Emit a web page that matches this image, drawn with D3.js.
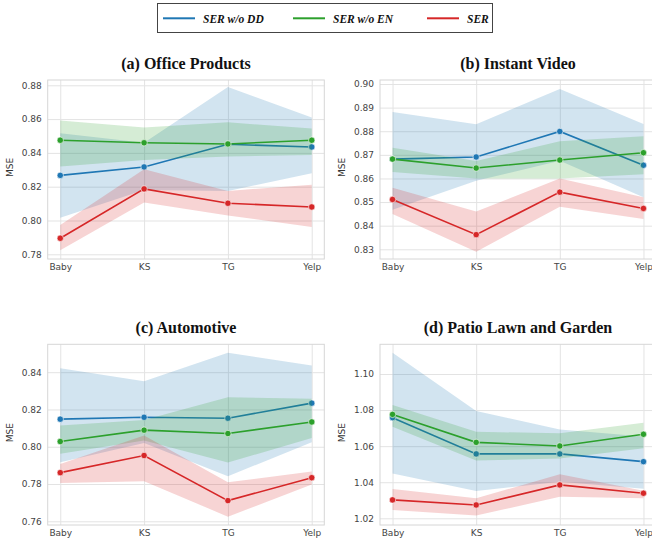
<!DOCTYPE html>
<html><head><meta charset="utf-8">
<script src="https://cdn.jsdelivr.net/npm/d3@7"></script>
<style>html,body{margin:0;padding:0;background:#fff;}svg{display:block;}</style>
</head><body>
<svg id="chart" width="652" height="541"></svg>
<script>
const categories = ["Baby", "KS", "TG", "Yelp"];
const seriesNames = ["SER w/o DD", "SER w/o EN", "SER"];
const seriesColors = ["#1f77b4", "#2ca02c", "#d62728"];
const panelTitles = ["(a) Office Products", "(b) Instant Video", "(c) Automotive", "(d) Patio Lawn and Garden"];

const ticksA = [0.78, 0.80, 0.82, 0.84, 0.86, 0.88];
const ticksB = [0.83, 0.84, 0.85, 0.86, 0.87, 0.88, 0.89, 0.90];
const ticksC = [0.76, 0.78, 0.80, 0.82, 0.84];
const ticksD = [1.02, 1.04, 1.06, 1.08, 1.10];

// (a) Office Products
const officeDD = [0.8267, 0.8317, 0.8451, 0.8435];
const officeDDLo = [0.8017, 0.8180, 0.8175, 0.8280];
const officeDDHi = [0.8516, 0.8460, 0.8790, 0.8609];
const officeEN = [0.8475, 0.8460, 0.8453, 0.8475];
const officeENLo = [0.8319, 0.8358, 0.8378, 0.8388];
const officeENHi = [0.8591, 0.8551, 0.8581, 0.8544];
const officeSER = [0.7895, 0.8187, 0.8102, 0.8080];
const officeSERLo = [0.7824, 0.8106, 0.8030, 0.7962];
const officeSERHi = [0.7974, 0.8303, 0.8175, 0.8212];

// (b) Instant Video
const videoDD = [0.8682, 0.8691, 0.8799, 0.8656];
const videoDDLo = [0.8467, 0.8590, 0.8675, 0.8520];
const videoDDHi = [0.8881, 0.8830, 0.8979, 0.8831];
const videoEN = [0.8682, 0.8644, 0.8678, 0.8709];
const videoENLo = [0.8627, 0.8600, 0.8600, 0.8618];
const videoENHi = [0.8730, 0.8674, 0.8758, 0.8779];
const videoSER = [0.8511, 0.8362, 0.8542, 0.8473];
const videoSERLo = [0.8449, 0.8290, 0.8480, 0.8428];
const videoSERHi = [0.8561, 0.8460, 0.8600, 0.8520];

// (c) Automotive
const autoDD = [0.8148, 0.8158, 0.8153, 0.8234];
const autoDDLo = [0.7917, 0.8020, 0.7842, 0.8024];
const autoDDHi = [0.8421, 0.8352, 0.8504, 0.8436];
const autoEN = [0.8028, 0.8089, 0.8071, 0.8133];
const autoENLo = [0.7962, 0.8033, 0.7915, 0.8047];
const autoENHi = [0.8114, 0.8144, 0.8266, 0.8257];
const autoSER = [0.7861, 0.7953, 0.7711, 0.7834];
const autoSERLo = [0.7806, 0.7815, 0.7625, 0.7797];
const autoSERHi = [0.7908, 0.8060, 0.7809, 0.7867];

// (d) Patio Lawn and Garden
const patioDD = [1.0758, 1.0557, 1.0557, 1.0514];
const patioDDLo = [1.0449, 1.0351, 1.0403, 1.0364];
const patioDDHi = [1.1118, 1.0795, 1.0693, 1.0653];
const patioEN = [1.0776, 1.0621, 1.0601, 1.0666];
const patioENLo = [1.0708, 1.0520, 1.0531, 1.0588];
const patioENHi = [1.0828, 1.0680, 1.0671, 1.0730];
const patioSER = [1.0302, 1.0274, 1.0385, 1.0339];
const patioSERLo = [1.0246, 1.0215, 1.0320, 1.0311];
const patioSERHi = [1.0363, 1.0311, 1.0444, 1.0353];

const svg = d3.select("#chart");

const panels = [
  { title: panelTitles[0], ticks: ticksA, x0: 47.7, x1: 324.3, top: 80, bottom: 259, yA: [0.78, 254.3], yB: [0.88, 85.3],
    series: [[officeDD, officeDDLo, officeDDHi], [officeEN, officeENLo, officeENHi], [officeSER, officeSERLo, officeSERHi]], fmt: ".2f" },
  { title: panelTitles[1], ticks: ticksB, x0: 380, x1: 656, top: 80, bottom: 259, yA: [0.83, 249.3], yB: [0.90, 84],
    series: [[videoDD, videoDDLo, videoDDHi], [videoEN, videoENLo, videoENHi], [videoSER, videoSERLo, videoSERHi]], fmt: ".2f" },
  { title: panelTitles[2], ticks: ticksC, x0: 47.7, x1: 324.3, top: 344.3, bottom: 525, yA: [0.76, 521.3], yB: [0.84, 372.2],
    series: [[autoDD, autoDDLo, autoDDHi], [autoEN, autoENLo, autoENHi], [autoSER, autoSERLo, autoSERHi]], fmt: ".2f" },
  { title: panelTitles[3], ticks: ticksD, x0: 380, x1: 656, top: 344.3, bottom: 525, yA: [1.02, 518.3], yB: [1.10, 374],
    series: [[patioDD, patioDDLo, patioDDHi], [patioEN, patioENLo, patioENHi], [patioSER, patioSERLo, patioSERHi]], fmt: ".2f" }
];

const gridColor = "#e3e3e3";
const tickColor = "#444";

panels.forEach(p => {
  const x = d3.scaleLinear().domain([-0.15, categories.length - 1 + 0.15]).range([p.x0, p.x1]);
  const y = d3.scaleLinear().domain([p.yA[0], p.yB[0]]).range([p.yA[1], p.yB[1]]);
  const g = svg.append("g");

  const clipId = "clip" + Math.round(p.x0) + Math.round(p.top);
  svg.append("clipPath").attr("id", clipId).append("rect")
    .attr("x", p.x0).attr("y", p.top).attr("width", p.x1 - p.x0).attr("height", p.bottom - p.top);

  g.append("rect").attr("x", p.x0).attr("y", p.top).attr("width", p.x1 - p.x0).attr("height", p.bottom - p.top)
    .attr("fill", "#fff");
  const yAxis = d3.axisLeft(y).tickValues(p.ticks).tickSize(-(p.x1 - p.x0)).tickPadding(6).tickFormat(d3.format(p.fmt));
  const ya = g.append("g").attr("transform", `translate(${p.x0},0)`).call(yAxis);
  ya.select(".domain").remove();
  ya.selectAll("line").attr("stroke", gridColor).attr("stroke-width", 1);
  ya.selectAll("text").attr("fill", tickColor).style("font-family", "DejaVu Sans").style("font-size", "9px");

  const xAxis = d3.axisBottom(x).tickValues(d3.range(categories.length)).tickFormat(i => categories[i])
    .tickSize(-(p.bottom - p.top)).tickPadding(5);
  const xa = g.append("g").attr("transform", `translate(0,${p.bottom})`).call(xAxis);
  xa.select(".domain").remove();
  xa.selectAll("line").attr("stroke", gridColor).attr("stroke-width", 1);
  xa.selectAll("text").attr("fill", tickColor).style("font-family", "DejaVu Sans").style("font-size", "9px");

  g.append("rect").attr("x", p.x0).attr("y", p.top).attr("width", p.x1 - p.x0).attr("height", p.bottom - p.top)
    .attr("fill", "none").attr("stroke", "#d6d6d6").attr("stroke-width", 1);

  const plot = g.append("g").attr("clip-path", `url(#${clipId})`);
  p.series.forEach((s, si) => {
    const [mean, lo, hi] = s;
    const area = d3.area().x((d, i) => x(i)).y0((d, i) => y(lo[i])).y1((d, i) => y(hi[i]));
    plot.append("path").datum(mean).attr("d", area).attr("fill", seriesColors[si]).attr("fill-opacity", 0.2).attr("stroke", "none");
    const line = d3.line().x((d, i) => x(i)).y(d => y(d));
    plot.append("path").datum(mean).attr("d", line).attr("fill", "none").attr("stroke", seriesColors[si]).attr("stroke-width", 1.6);
    plot.selectAll(null).data(mean).enter().append("circle")
      .attr("cx", (d, i) => x(i)).attr("cy", d => y(d)).attr("r", 3.2)
      .attr("fill", seriesColors[si]).attr("stroke", "#fff").attr("stroke-width", 0.6);
  });

  svg.append("text").attr("x", (p.x0 + p.x1) / 2).attr("y", p.top - 11)
    .attr("text-anchor", "middle").style("font-family", "Liberation Serif").style("font-weight", "bold")
    .style("font-size", "16px").attr("fill", "#111").text(p.title);

  svg.append("text").attr("transform", `translate(${p.x0 - 35},${(p.top + p.bottom) / 2 - 2}) rotate(-90)`)
    .attr("text-anchor", "middle").style("font-family", "DejaVu Sans").style("font-size", "9px")
    .attr("fill", "#333").text("MSE");
});

const leg = svg.append("g");
leg.append("rect").attr("x", 157.5).attr("y", 3.5).attr("width", 335).attr("height", 29)
  .attr("fill", "#fff").attr("stroke", "#444").attr("stroke-width", 1);
const legX = [163, 293, 427];
seriesNames.forEach((n, i) => {
  leg.append("line").attr("x1", legX[i]).attr("x2", legX[i] + 32).attr("y1", 18.3).attr("y2", 18.3)
    .attr("stroke", seriesColors[i]).attr("stroke-width", 2);
  leg.append("text").attr("x", legX[i] + 40).attr("y", 22.5)
    .style("font-family", "Liberation Serif").style("font-weight", "bold").style("font-style", "italic")
    .style("font-size", "11.5px").attr("fill", "#111").text(n);
});
</script>
</body></html>
